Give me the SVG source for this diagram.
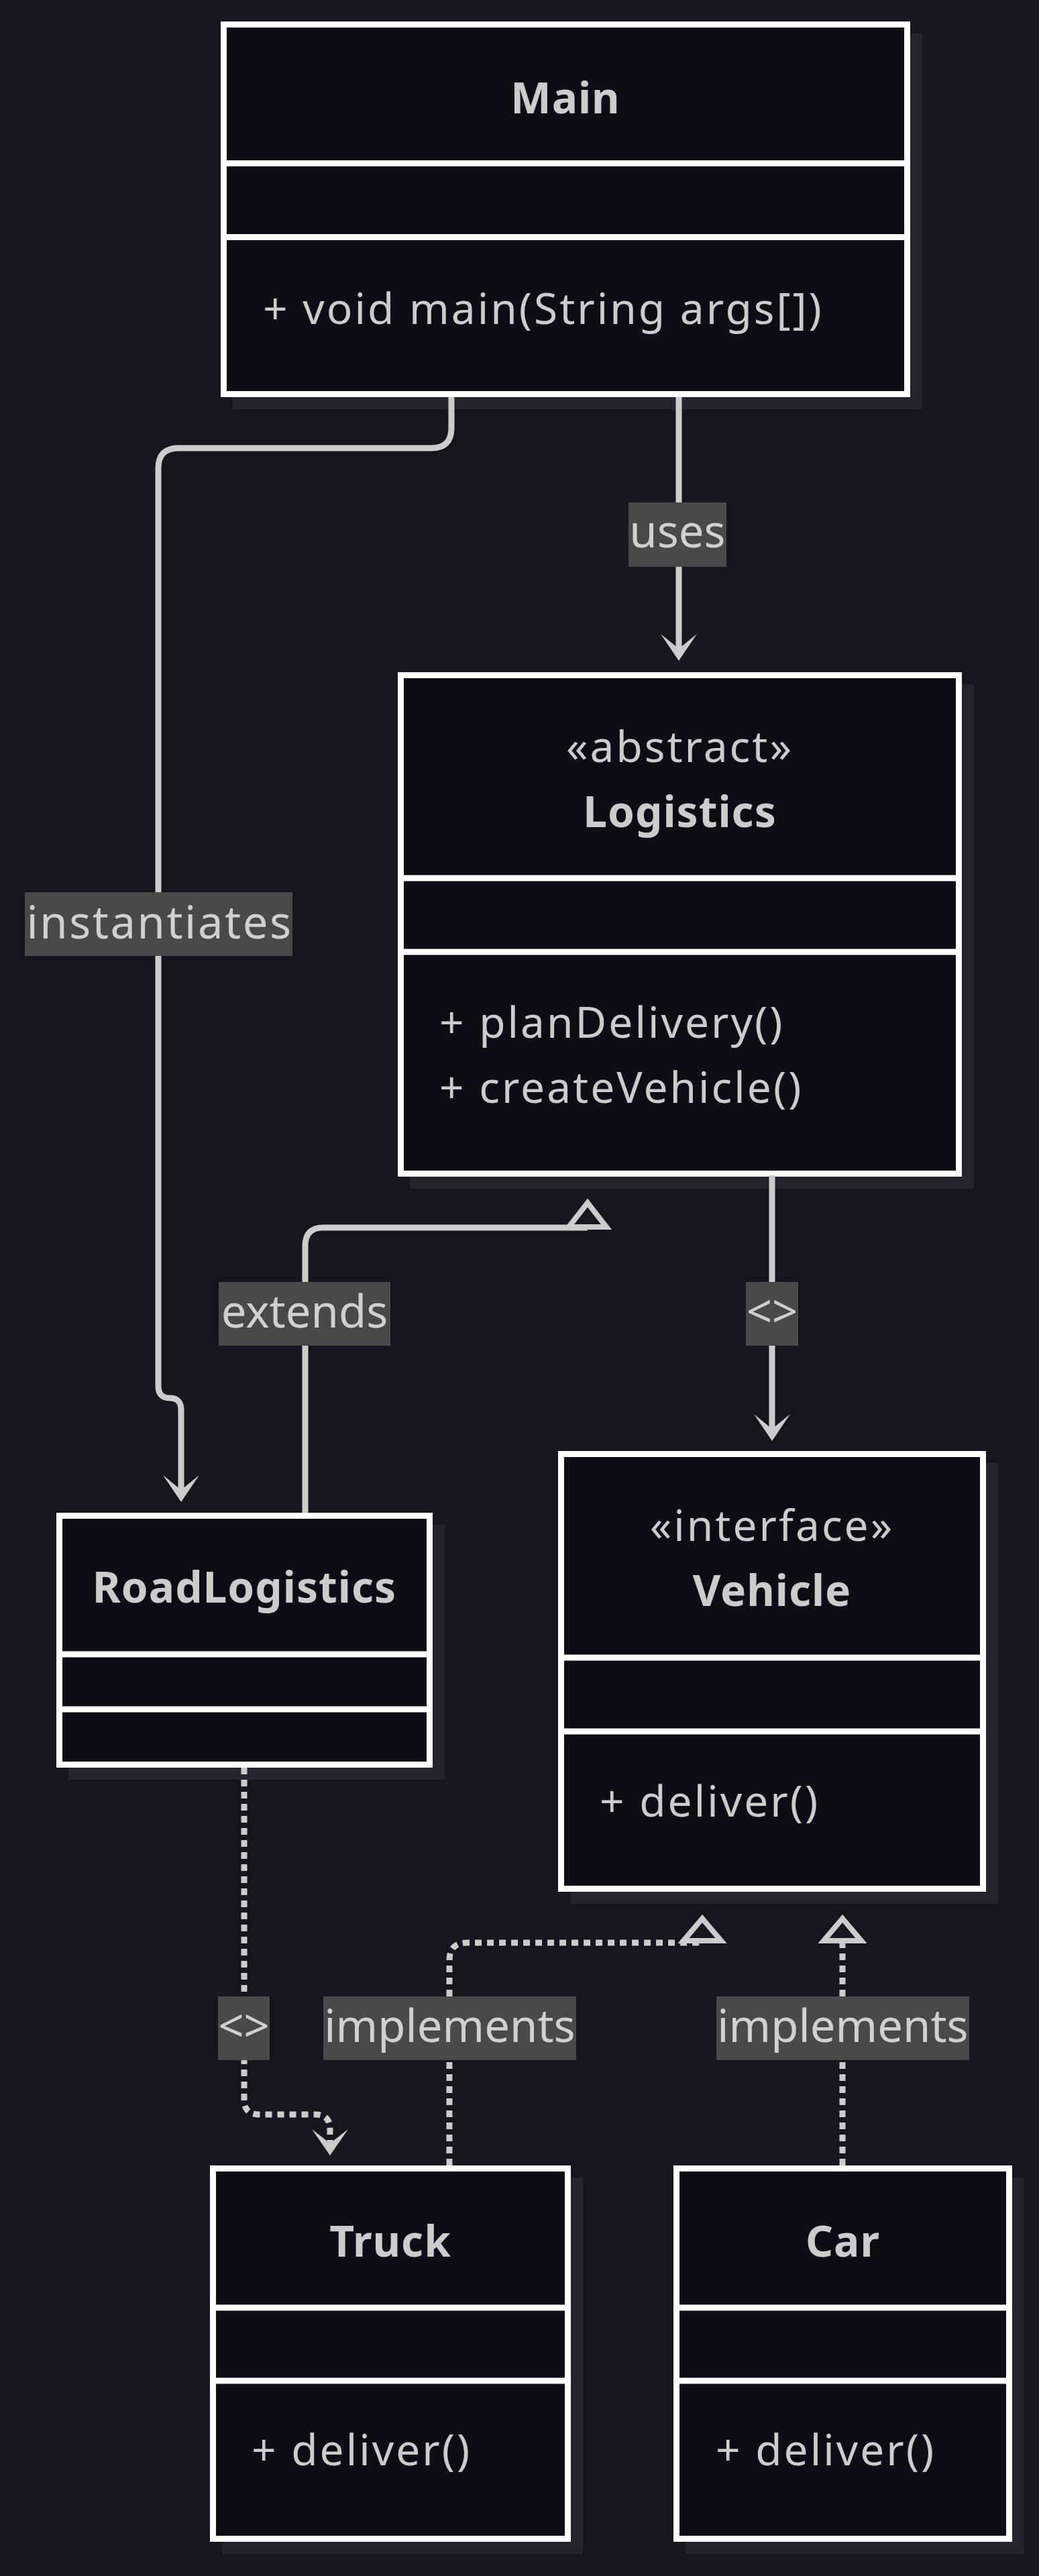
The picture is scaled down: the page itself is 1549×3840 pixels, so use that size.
<svg xmlns="http://www.w3.org/2000/svg" width="1549" height="3840" viewBox="0 0 1549 3840">
<defs>
<style>
.bg{fill:#17161f}
.shadow{fill:#24232e}
.box{fill:#0d0d15;stroke:#ffffff;stroke-width:9}
.div{stroke:#ffffff;stroke-width:9}
.title{font-family:"Noto Sans","DejaVu Sans",sans-serif;font-weight:bold;font-size:64px;fill:#cccccc;text-anchor:middle;letter-spacing:1px}
.stereo{font-family:"Noto Sans","DejaVu Sans",sans-serif;font-size:64px;fill:#cccccc;text-anchor:middle;letter-spacing:3px}
.member{font-family:"Noto Sans","DejaVu Sans",sans-serif;font-size:64px;fill:#cccccc;letter-spacing:3px}
.edge{fill:none;stroke:#cccccc;stroke-width:9}
.dot{stroke-dasharray:10 8}
.head{fill:#cccccc}
.tri{fill:none;stroke:#cccccc;stroke-width:8;stroke-linejoin:miter}
.lbg{fill:#484a49}
.ltext{font-family:"Noto Sans","DejaVu Sans",sans-serif;font-size:67px;fill:#d0d0d0;text-anchor:middle}
</style>
</defs>
<rect class="bg" x="0" y="0" width="1549" height="3840"/>

<g id="node-Main">
<rect class="shadow" x="347" y="50" width="1028" height="560"/>
<rect class="box" x="333.5" y="36.5" width="1019" height="551"/>
<line class="div" x1="333.5" y1="243.5" x2="1352.5" y2="243.5"/>
<line class="div" x1="333.5" y1="353.5" x2="1352.5" y2="353.5"/>
<text class="title" x="843" y="169">Main</text>
<text class="member" x="392" y="483">+ void main(String args[])</text>
</g>

<g id="node-Logistics">
<rect class="shadow" x="611" y="1020" width="841" height="752"/>
<rect class="box" x="597.5" y="1006.5" width="832" height="743"/>
<line class="div" x1="597.5" y1="1309" x2="1429.5" y2="1309"/>
<line class="div" x1="597.5" y1="1419" x2="1429.5" y2="1419"/>
<text class="stereo" x="1013.5" y="1136">«abstract»</text>
<text class="title" x="1013.5" y="1233">Logistics</text>
<text class="member" x="655" y="1547">+ planDelivery()</text>
<text class="member" x="655" y="1644">+ createVehicle()</text>
</g>

<g id="node-RoadLogistics">
<rect class="shadow" x="102" y="2273" width="561" height="380"/>
<rect class="box" x="88.5" y="2259.5" width="552" height="371"/>
<line class="div" x1="88.5" y1="2466" x2="640.5" y2="2466"/>
<line class="div" x1="88.5" y1="2548" x2="640.5" y2="2548"/>
<text class="title" x="364.5" y="2389">RoadLogistics</text>
</g>

<g id="node-Vehicle">
<rect class="shadow" x="850" y="2181" width="638" height="657"/>
<rect class="box" x="836.5" y="2167.5" width="629" height="648"/>
<line class="div" x1="836.5" y1="2471" x2="1465.5" y2="2471"/>
<line class="div" x1="836.5" y1="2581" x2="1465.5" y2="2581"/>
<text class="stereo" x="1151" y="2297">«interface»</text>
<text class="title" x="1151" y="2394">Vehicle</text>
<text class="member" x="894" y="2708">+ deliver()</text>
</g>

<g id="node-Truck">
<rect class="shadow" x="331" y="3246" width="538" height="561"/>
<rect class="box" x="317.5" y="3232.5" width="529" height="552"/>
<line class="div" x1="317.5" y1="3440" x2="846.5" y2="3440"/>
<line class="div" x1="317.5" y1="3549" x2="846.5" y2="3549"/>
<text class="title" x="582" y="3364">Truck</text>
<text class="member" x="375" y="3675">+ deliver()</text>
</g>

<g id="node-Car">
<rect class="shadow" x="1022" y="3246" width="505" height="561"/>
<rect class="box" x="1008.5" y="3232.5" width="496" height="552"/>
<line class="div" x1="1008.5" y1="3440" x2="1504.5" y2="3440"/>
<line class="div" x1="1008.5" y1="3549" x2="1504.5" y2="3549"/>
<text class="title" x="1256.5" y="3364">Car</text>
<text class="member" x="1067" y="3675">+ deliver()</text>
</g>

<g id="connectors">
<!-- Main -> RoadLogistics : instantiates -->
<path class="edge" d="M673,592 V638 Q673,668 643,668 H266 Q236,668 236,698 V2066 Q236,2084 253,2084 Q270,2084 270,2102 V2225"/>
<polygon class="head" points="243,2199 270,2239 297,2199 270,2221"/>
<!-- Main -> Logistics : uses -->
<path class="edge" d="M1012,592 V970"/>
<polygon class="head" points="985,945 1012,985 1039,945 1012,967"/>
<!-- RoadLogistics -> Logistics : extends -->
<path class="edge" d="M455,2255 V1857 Q455,1830 482,1830 H876"/>
<polygon class="tri" points="876,1793 848,1829 904,1829"/>
<!-- Logistics -> Vehicle : <> -->
<path class="edge" d="M1151,1752 V2134"/>
<polygon class="head" points="1124,2108 1151,2148 1178,2108 1151,2130"/>
<!-- RoadLogistics -> Truck : <> dotted -->
<path class="edge dot" d="M364,2635 V3130 Q364,3152 386,3152 H470 Q492,3152 492,3174 V3200"/>
<polygon class="head" points="465,3174 492,3213 519,3174 492,3195"/>
<!-- Truck -> Vehicle : implements -->
<path class="edge dot" d="M670,3228 V2922 Q670,2896 696,2896 H1047"/>
<polygon class="tri" points="1047,2860 1019,2893 1075,2893"/>
<!-- Car -> Vehicle : implements -->
<path class="edge dot" d="M1256,3228 V2897"/>
<polygon class="tri" points="1256,2860 1228,2893 1284,2893"/>

<g id="edge-labels">
<rect class="lbg" x="937" y="749" width="146" height="96"/>
<text class="ltext" x="1010" y="816">uses</text>
<rect class="lbg" x="37" y="1330" width="399" height="95"/>
<text class="ltext" x="238" y="1399" style="letter-spacing:2.5px">instantiates</text>
<rect class="lbg" x="326" y="1911" width="256" height="95"/>
<text class="ltext" x="454" y="1979">extends</text>
<rect class="lbg" x="1112" y="1911" width="78" height="95"/>
<text class="ltext" x="1151" y="1979">&lt;&gt;</text>
<rect class="lbg" x="325" y="2976" width="77" height="95"/>
<text class="ltext" x="363.5" y="3044">&lt;&gt;</text>
<rect class="lbg" x="482" y="2976" width="377" height="95"/>
<text class="ltext" x="670.5" y="3044">implements</text>
<rect class="lbg" x="1068" y="2976" width="377" height="95"/>
<text class="ltext" x="1256.5" y="3044">implements</text>
</g>
</g>
</svg>
